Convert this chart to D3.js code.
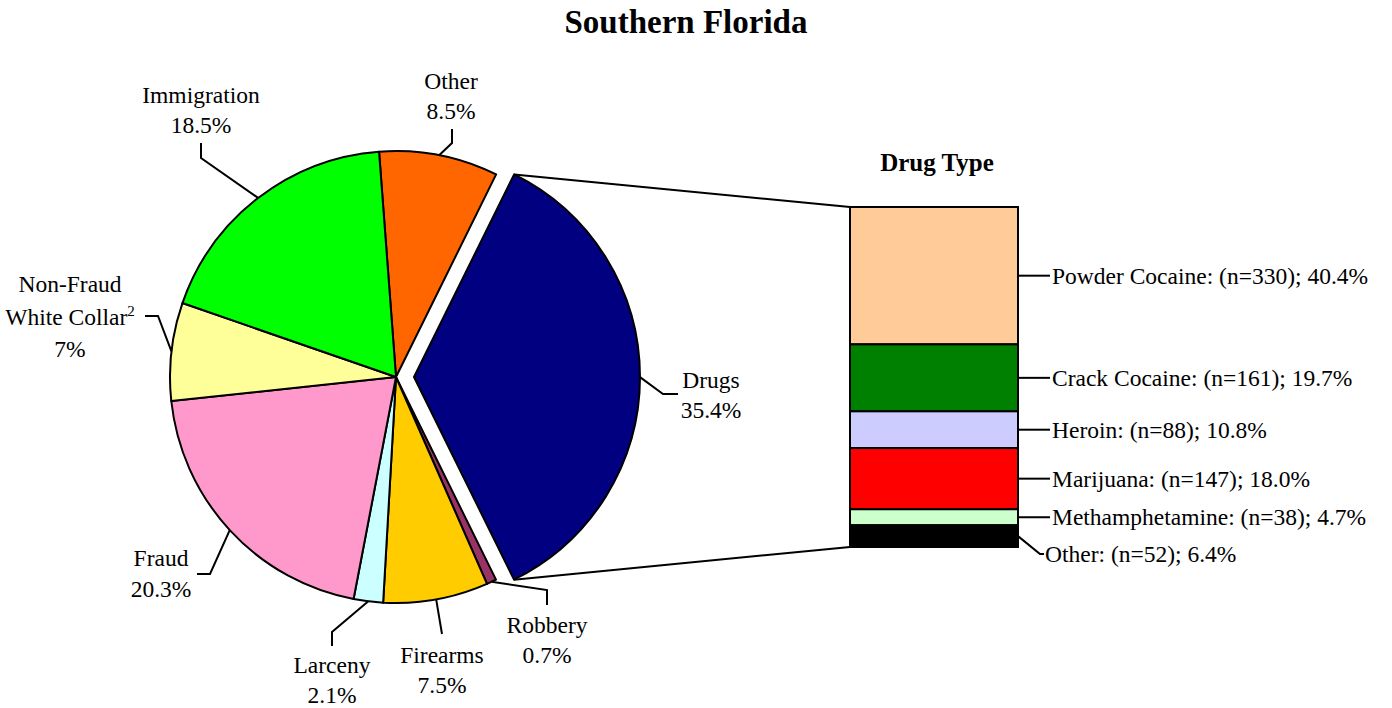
<!DOCTYPE html>
<html lang="en">
<head>
    <meta charset="UTF-8" />
    <title>Southern Florida</title>
    <script src="https://d3js.org/d3.v7.min.js"></script>
    <style>
        body { margin: 0; background: #fff; }
        text { font-family: "Liberation Serif", "Times New Roman", serif; fill: #000; }
    </style>
</head>
<body>
    <svg id="chart" width="1392" height="708"></svg>
    <script>
        // offense categories (pie), clockwise from just left of 12 o'clock
        const pieCats = ["Other", "Drugs", "Robbery", "Firearms", "Larceny", "Fraud", "Non-Fraud White Collar", "Immigration"];
        const piePct = [8.5, 35.4, 0.7, 7.5, 2.1, 20.3, 7.0, 18.5];
        const pieColors = ["#FF6600", "#000080", "#993366", "#FFCC00", "#CCFFFF", "#FF99CC", "#FFFF99", "#00FF00"];

        // drug breakdown (stacked bar), top to bottom
        const drugCats = ["Powder Cocaine", "Crack Cocaine", "Heroin", "Marijuana", "Methamphetamine", "Other"];
        const drugN = [330, 161, 88, 147, 38, 52];
        const drugPct = [40.4, 19.7, 10.8, 18.0, 4.7, 6.4];
        const drugColors = ["#FFCC99", "#008000", "#CCCCFF", "#FF0000", "#CCFFCC", "#000000"];

        const svg = d3.select("svg#chart");

        const cx = 396, cy = 377, radius = 226;
        const explode = 18;
        const startAngle = -4.3 * Math.PI / 180;
        const labelSize = "23.5px";

        svg.append("text")
            .attr("x", 686)
            .attr("y", 33)
            .attr("text-anchor", "middle")
            .style("font-size", "33px")
            .style("font-weight", "bold")
            .text("Southern Florida");

        const pieData = pieCats.map((c, i) => ({ cat: c, pct: piePct[i], color: pieColors[i] }));

        const pie = d3.pie()
            .sort(null)
            .value(d => d.pct)
            .startAngle(startAngle)
            .endAngle(startAngle + 2 * Math.PI);

        const arcs = pie(pieData);

        const arc = d3.arc().innerRadius(0).outerRadius(radius);

        const offsetOf = (d) => {
            if (d.data.cat !== "Drugs") return [0, 0];
            const mid = (d.startAngle + d.endAngle) / 2;
            return [explode * Math.sin(mid), -explode * Math.cos(mid)];
        };

        const polar = (a, r, off) => [cx + off[0] + r * Math.sin(a), cy + off[1] - r * Math.cos(a)];

        const pieArea = svg.append("g")
            .attr("transform", `translate(${cx},${cy})`);

        pieArea.selectAll("path.slice")
            .data(arcs)
            .join("path")
            .attr("class", "slice")
            .attr("transform", d => `translate(${offsetOf(d)[0]},${offsetOf(d)[1]})`)
            .attr("d", arc)
            .attr("fill", d => d.data.color)
            .attr("stroke", "black")
            .attr("stroke-width", 2)
            .attr("stroke-linejoin", "round");

        // stacked bar for drug types
        const barX0 = 850, barX1 = 1018;
        const cumul = d3.cumsum(drugPct);
        const yScale = d3.scaleLinear()
            .domain([0, d3.sum(drugPct)])
            .range([207, 547]);

        const barData = drugCats.map((c, i) => ({
            cat: c, n: drugN[i], pct: drugPct[i], color: drugColors[i],
            y0: cumul[i] - drugPct[i], y1: cumul[i]
        }));

        // connector lines from exploded slice to bar
        const drugArc = arcs.find(d => d.data.cat === "Drugs");
        const dOff = offsetOf(drugArc);
        const pTop = polar(drugArc.startAngle, radius, dOff);
        const pBot = polar(drugArc.endAngle, radius, dOff);

        svg.append("line")
            .attr("x1", pTop[0]).attr("y1", pTop[1])
            .attr("x2", barX0).attr("y2", yScale(0))
            .attr("stroke", "black").attr("stroke-width", 2);
        svg.append("line")
            .attr("x1", pBot[0]).attr("y1", pBot[1])
            .attr("x2", barX0).attr("y2", yScale(100))
            .attr("stroke", "black").attr("stroke-width", 2);

        svg.selectAll("rect.seg")
            .data(barData)
            .join("rect")
            .attr("class", "seg")
            .attr("x", barX0)
            .attr("y", d => yScale(d.y0))
            .attr("width", barX1 - barX0)
            .attr("height", d => yScale(d.y1) - yScale(d.y0))
            .attr("fill", d => d.color)
            .attr("stroke", "black")
            .attr("stroke-width", 2);

        svg.append("text")
            .attr("x", 937)
            .attr("y", 171)
            .attr("text-anchor", "middle")
            .style("font-size", "25px")
            .style("font-weight", "bold")
            .text("Drug Type");

        // bar labels
        const barLabels = svg.append("g");
        barData.forEach((d) => {
            const ym = (yScale(d.y0) + yScale(d.y1)) / 2;
            const drop = d.cat === "Other" ? 18 : 0;
            const ly = ym + drop;
            barLabels.append("polyline")
                .attr("points", drop
                    ? `${barX1},${ym} ${barX1 + 22},${ly} ${barX1 + 26},${ly}`
                    : `${barX1},${ym} ${barX1 + 32},${ly}`)
                .attr("fill", "none")
                .attr("stroke", "black")
                .attr("stroke-width", 2);
            barLabels.append("text")
                .attr("x", drop ? barX1 + 27 : barX1 + 34)
                .attr("y", ly)
                .attr("dy", "0.35em")
                .style("font-size", labelSize)
                .text(`${d.cat}: (n=${d.n}); ${d.pct.toFixed(1)}%`);
        });

        // pie labels: where the text sits and the elbow of the leader line
        const pieLabelLayout = {
            "Other": { x: 451, y: 81, gap: 30, lines: ["Other"], elbow: [[452, 143], [452, 129]] },
            "Drugs": { x: 711, y: 380, gap: 30, lines: ["Drugs"], elbow: [[663, 394], [678, 394]] },
            "Robbery": { x: 547, y: 625, gap: 30, lines: ["Robbery"], elbow: [[547, 590], [547, 605]] },
            "Firearms": { x: 442, y: 655, gap: 30, lines: ["Firearms"], elbow: [[442, 634]] },
            "Larceny": { x: 332, y: 665, gap: 30, lines: ["Larceny"], elbow: [[332, 632], [332, 646]] },
            "Fraud": { x: 161, y: 558, gap: 31, lines: ["Fraud"], elbow: [[210, 574], [197, 574]] },
            "Non-Fraud White Collar": { x: 70, y: 284, gap: 32.5, lines: ["Non-Fraud", "White Collar"], sup: "2", elbow: [[158, 316], [145, 316]] },
            "Immigration": { x: 201, y: 95, gap: 30, lines: ["Immigration"], elbow: [[201, 158], [201, 143]] }
        };

        const pieLabels = svg.append("g");
        arcs.forEach((d) => {
            const lay = pieLabelLayout[d.data.cat];
            const mid = (d.startAngle + d.endAngle) / 2;
            const start = polar(mid, radius, offsetOf(d));
            const pts = [start, ...lay.elbow];

            pieLabels.append("polyline")
                .attr("points", pts.map(p => p.join(",")).join(" "))
                .attr("fill", "none")
                .attr("stroke", "black")
                .attr("stroke-width", 2);

            const allLines = [...lay.lines, `${d.data.pct}%`];
            allLines.forEach((t, i) => {
                const txt = pieLabels.append("text")
                    .attr("x", lay.x)
                    .attr("y", lay.y + i * lay.gap)
                    .attr("dy", "0.35em")
                    .attr("text-anchor", "middle")
                    .style("font-size", labelSize);
                txt.append("tspan").text(t);
                if (lay.sup && t === "White Collar") {
                    txt.append("tspan")
                        .attr("dy", "-0.6em")
                        .style("font-size", "15px")
                        .text(lay.sup);
                }
            });
        });
    </script>
</body>
</html>
